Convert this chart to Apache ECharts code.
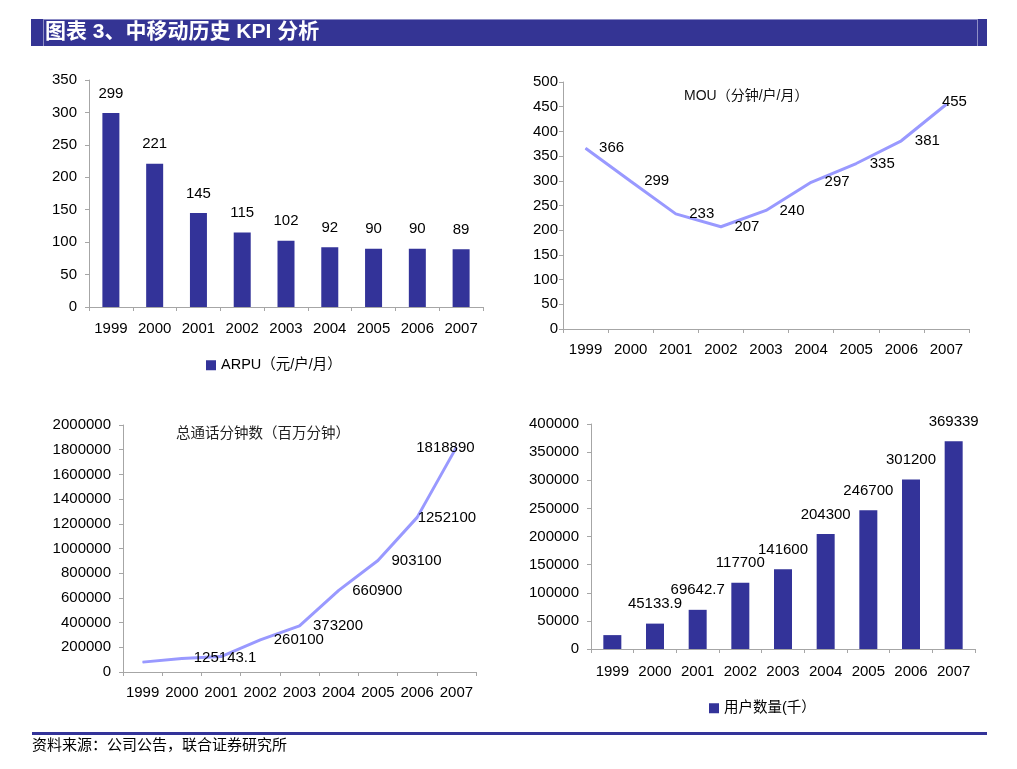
<!DOCTYPE html>
<html><head><meta charset="utf-8">
<script src="https://cdn.jsdelivr.net/npm/echarts@6/dist/echarts.min.js"></script>
<style>html,body{margin:0;padding:0;background:#fff}#c{width:1017px;height:769px}</style>
</head><body><div id="c"></div>
<script>
var years = ['1999','2000','2001','2002','2003','2004','2005','2006','2007'];
var arpu = [299,221,145,115,102,92,90,90,89];
var mou = [366,299,233,207,240,297,335,381,455];
var minutes = [80000,110000,125143.1,260100,373200,660900,903100,1252100,1818890];
var subs = [24700,45133.9,69642.7,117700,141600,204300,246700,301200,369339];
var arpuTicks = {min:0,max:350,interval:50};
var mouTicks = {min:0,max:500,interval:50};
var minTicks = {min:0,max:2000000,interval:200000};
var subTicks = {min:0,max:400000,interval:50000};

var NUM = '"Liberation Sans", Arial, "Noto Sans CJK SC", sans-serif';
var BLUE = '#333399';
var LINE = '#9999FF';
var AX = '#a6a6a6';

function xAx(gi, margin){
  return {type:'category',gridIndex:gi,data:years,boundaryGap:true,
    axisLine:{lineStyle:{color:AX}},axisTick:{show:true,length:4,lineStyle:{color:AX},alignWithLabel:false},
    axisLabel:{color:'#000',fontFamily:NUM,fontSize:15,margin:margin,interval:0},splitLine:{show:false}};
}
function yAx(gi, t, margin){
  return {type:'value',gridIndex:gi,min:t.min,max:t.max,interval:t.interval,
    axisLine:{show:true,lineStyle:{color:AX}},axisTick:{show:true,length:4,lineStyle:{color:AX}},
    axisLabel:{color:'#000',fontFamily:NUM,fontSize:15,margin:margin,formatter:function(v){return String(v);}},
    splitLine:{show:false}};
}
function lbl(extra){
  var o = {show:true,color:'#000',fontFamily:NUM,fontSize:15,formatter:function(p){return String(p.value);}};
  for (var k in extra) o[k]=extra[k];
  return o;
}

var mouData = mou.map(function(v,i){
  if(i===mou.length-1) return {value:v,label:{position:'inside',offset:[8,-2]}};
  return v;
});
var minData = minutes.map(function(v,i){
  if(i<2) return {value:v,label:{show:false}};
  if(i===2) return {value:v,label:{position:'inside',offset:[4,1]}};
  if(i===7) return {value:v,label:{position:'right',distance:0}};
  if(i===8) return {value:v,label:{position:'inside',offset:[-11,0]}};
  return v;
});
var subData = subs.map(function(v,i){
  if(i===0) return {value:v,label:{show:false}};
  return v;
});

var lineCommon = {type:'line',symbol:'circle',symbolSize:1,showSymbol:true,
  lineStyle:{color:LINE,width:3},itemStyle:{color:LINE}};

var option = {
  animation:false,
  textStyle:{fontFamily:NUM},
  grid:[
    {left:89,top:80,width:394,height:227},
    {left:563,top:82,width:406,height:247},
    {left:123,top:425,width:353,height:247},
    {left:591,top:424,width:384,height:225}
  ],
  xAxis:[xAx(0,14),xAx(1,13),xAx(2,13),xAx(3,15)],
  yAxis:[yAx(0,arpuTicks,12),yAx(1,mouTicks,5),yAx(2,minTicks,12),yAx(3,subTicks,12)],
  title:[
    {text:'MOU（分钟/户/月）',left:679,top:84,textStyle:{fontFamily:NUM,fontSize:14,fontWeight:'normal',color:'#111'}},
    {text:'总通话分钟数（百万分钟）',left:171,top:422,textStyle:{fontFamily:NUM,fontSize:14.5,fontWeight:'normal',color:'#222'}}
  ],
  legend:[
    {data:['ARPU（元/户/月）'],left:201,top:353,itemWidth:10,itemHeight:10,icon:'rect',itemGap:5,
      textStyle:{fontFamily:NUM,fontSize:14.5,color:'#000'}},
    {data:['用户数量(千）'],left:704,top:696,itemWidth:10,itemHeight:10,icon:'rect',itemGap:5,
      textStyle:{fontFamily:NUM,fontSize:14.5,color:'#000'}}
  ],
  series:[
    {name:'ARPU（元/户/月）',type:'bar',xAxisIndex:0,yAxisIndex:0,data:arpu,barWidth:17,
      itemStyle:{color:BLUE},label:lbl({position:'top',distance:12})},
    Object.assign({name:'MOU',xAxisIndex:1,yAxisIndex:1,data:mouData,
      label:lbl({position:'right',distance:13})},lineCommon),
    Object.assign({name:'总通话分钟数',xAxisIndex:2,yAxisIndex:2,data:minData,
      label:lbl({position:'right',distance:13})},lineCommon),
    {name:'用户数量(千）',type:'bar',xAxisIndex:3,yAxisIndex:3,data:subData,barWidth:18,
      itemStyle:{color:BLUE},label:lbl({position:'top',distance:12})}
  ],
  graphic:[
    {type:'rect',shape:{x:31,y:19,width:956,height:27},style:{fill:'#343494'}},
    {type:'rect',shape:{x:43,y:19,width:934,height:1},style:{fill:'#8f8fc6'}},
    {type:'rect',shape:{x:43,y:19,width:1,height:27},style:{fill:'#8f8fc6'}},
    {type:'rect',shape:{x:977,y:19,width:1,height:27},style:{fill:'#8f8fc6'}},
    {type:'text',left:45,top:22,style:{text:'图表 3、中移动历史 KPI 分析',fill:'#fff',font:'bold 21px "Liberation Sans", "Noto Sans CJK SC", sans-serif'}},
    {type:'rect',shape:{x:32,y:732,width:955,height:3},style:{fill:'#333399'}},
    {type:'text',left:32,top:737,style:{text:'资料来源：公司公告，联合证券研究所',fill:'#000',font:'15px "Noto Sans CJK SC", sans-serif'}}
  ]
};
var chart = echarts.init(document.getElementById('c'),null,{renderer:'canvas'});
chart.setOption(option);
</script>
</body></html>
